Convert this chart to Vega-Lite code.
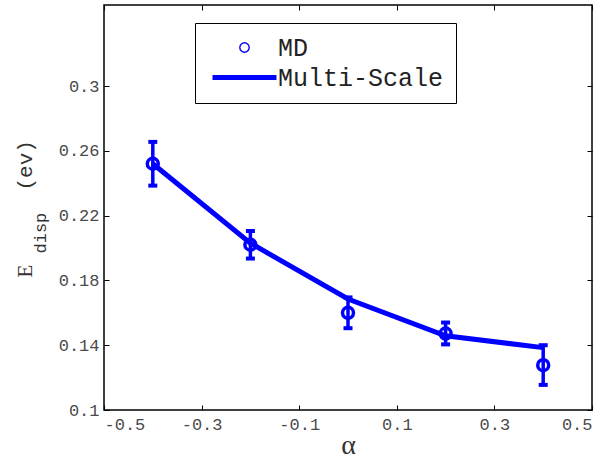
{
  "$schema": "https://vega.github.io/schema/vega-lite/v6.json",
  "width": 488,
  "height": 405,
  "autosize": {"type": "none"},
  "padding": {"left": 104, "top": 5, "right": 17, "bottom": 56},
  "background": "white",
  "config": {
    "view": {"stroke": "#000", "strokeWidth": 1.5},
    "axis": {
      "domain": false,
      "grid": false,
      "tickColor": "#000",
      "tickSize": -5,
      "tickWidth": 1,
      "labelFont": "Liberation Mono",
      "labelFontSize": 17,
      "labelColor": "#4a4a4a",
      "titleFontWeight": "normal",
      "titleColor": "#333"
    }
  },
  "data": {
    "values": [
      {"alpha": -0.4, "md": 0.252, "lo": 0.2385, "hi": 0.2655, "ms": 0.252},
      {"alpha": -0.2, "md": 0.202, "lo": 0.1935, "hi": 0.2105, "ms": 0.203},
      {"alpha": 0.0, "md": 0.16, "lo": 0.1505, "hi": 0.1695, "ms": 0.1685},
      {"alpha": 0.2, "md": 0.1472, "lo": 0.1405, "hi": 0.154, "ms": 0.1458},
      {"alpha": 0.4, "md": 0.1277, "lo": 0.1155, "hi": 0.14, "ms": 0.1385}
    ]
  },
  "resolve": {"axis": {"x": "independent", "y": "independent"}},
  "layer": [
    {
      "mark": {"type": "line", "strokeWidth": 5},
      "encoding": {
        "x": {
          "field": "alpha",
          "type": "quantitative",
          "scale": {"domain": [-0.5, 0.5], "nice": false, "zero": false},
          "axis": {
            "orient": "bottom",
            "values": [-0.5, -0.3, -0.1, 0.1, 0.3, 0.5],
            "labelExpr": "datum.value < 0 ? '-' + format(-datum.value, '.1f') : format(datum.value, '.1f')",
            "labelPadding": 11,
            "title": "α",
            "titleFont": "Liberation Serif",
            "titleFontSize": 28,
            "titleBaseline": "alphabetic",
            "titleX": 244,
            "titleY": 43
          }
        },
        "y": {
          "field": "ms",
          "type": "quantitative",
          "scale": {"domain": [0.1, 0.35], "nice": false, "zero": false},
          "axis": {
            "orient": "left",
            "values": [0.1, 0.14, 0.18, 0.22, 0.26, 0.3],
            "format": ".2~f",
            "labelPadding": 10,
            "title": "E",
            "titleFont": "Liberation Serif",
            "titleFontSize": 21,
            "titleAngle": -90,
            "titleAlign": "left",
            "titleBaseline": "alphabetic",
            "titleX": -73,
            "titleY": 272
          }
        },
        "color": {
          "datum": "Multi-Scale",
          "scale": {"domain": ["MD", "Multi-Scale"], "range": ["#0000ff", "#0000ff"]},
          "legend": {
            "orient": "none",
            "legendX": 91,
            "legendY": 18,
            "title": null,
            "strokeColor": "#000",
            "fillColor": "#fff",
            "padding": 12,
            "labelFont": "Liberation Mono",
            "labelFontSize": 25,
            "labelColor": "#222",
            "labelLimit": 400,
            "labelOffset": 21,
            "symbolOffset": 25,
            "rowPadding": 4,
            "symbolType": "stroke",
            "symbolSize": 4096,
            "symbolStrokeWidth": 5,
            "encode": {
              "symbols": {
                "update": {
                  "shape": {"signal": "datum.value === 'MD' ? 'circle' : 'stroke'"},
                  "size": {"signal": "datum.value === 'MD' ? 88 : 4096"},
                  "strokeWidth": {"signal": "datum.value === 'MD' ? 1.4 : 5"},
                  "fill": {"value": "transparent"},
                  "stroke": {"value": "#0000ff"}
                }
              }
            }
          }
        }
      }
    },
    {
      "mark": {"type": "rule", "strokeWidth": 3.5, "color": "#0000ff"},
      "encoding": {
        "x": {
          "field": "alpha",
          "type": "quantitative",
          "axis": {
            "orient": "top",
            "values": [-0.5, -0.3, -0.1, 0.1, 0.3, 0.5],
            "labels": false,
            "title": "disp",
            "titleFont": "Liberation Mono",
            "titleFontSize": 17,
            "titleAngle": -90,
            "titleAlign": "left",
            "titleBaseline": "alphabetic",
            "titleX": -59,
            "titleY": 248
          }
        },
        "y": {
          "field": "lo",
          "type": "quantitative",
          "axis": {
            "orient": "right",
            "values": [0.1, 0.14, 0.18, 0.22, 0.26, 0.3],
            "labels": false,
            "title": "(ev)",
            "titleFont": "Liberation Mono",
            "titleFontSize": 21,
            "titleAngle": -90,
            "titleAlign": "left",
            "titleBaseline": "alphabetic",
            "titleX": -561,
            "titleY": 185
          }
        },
        "y2": {"field": "hi"}
      }
    },
    {
      "mark": {"type": "tick", "orient": "horizontal", "size": 9, "thickness": 4, "color": "#0000ff", "opacity": 1},
      "encoding": {
        "x": {"field": "alpha", "type": "quantitative", "axis": null},
        "y": {"field": "lo", "type": "quantitative", "axis": null}
      }
    },
    {
      "mark": {"type": "tick", "orient": "horizontal", "size": 9, "thickness": 4, "color": "#0000ff", "opacity": 1},
      "encoding": {
        "x": {"field": "alpha", "type": "quantitative", "axis": null},
        "y": {"field": "hi", "type": "quantitative", "axis": null}
      }
    },
    {
      "mark": {"type": "point", "shape": "circle", "filled": false, "size": 120, "strokeWidth": 3.5, "opacity": 1},
      "encoding": {
        "x": {"field": "alpha", "type": "quantitative", "axis": null},
        "y": {"field": "md", "type": "quantitative", "axis": null},
        "color": {"datum": "MD"}
      }
    }
  ]
}
